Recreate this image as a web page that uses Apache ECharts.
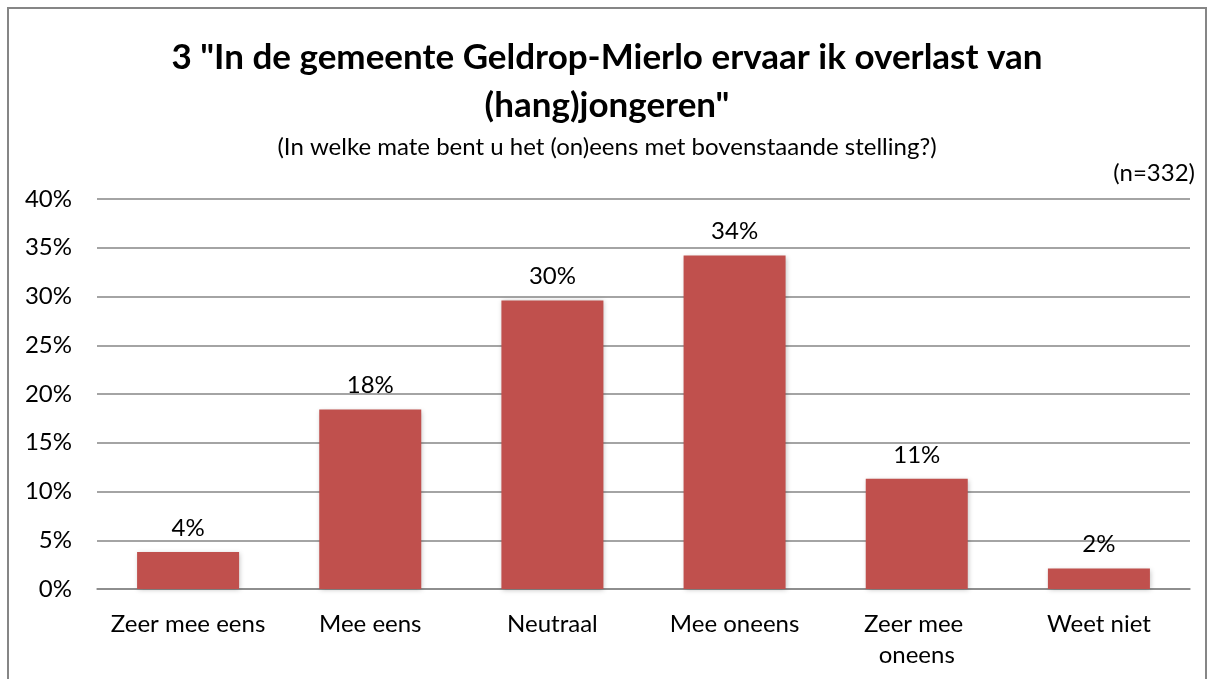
<!DOCTYPE html>
<html>
<head>
<meta charset="utf-8">
<script src="https://cdn.jsdelivr.net/npm/echarts@6/dist/echarts.min.js"></script>
<style>
  html, body { margin: 0; padding: 0; background: #fff; }
  #container { width: 1214px; height: 679px; }
</style>
</head>
<body>
<div id="container"></div>
<script>
var categories = ['Zeer mee eens', 'Mee eens', 'Neutraal', 'Mee oneens', 'Zeer mee oneens', 'Weet niet'];
var values = [3.8, 18.4, 29.6, 34.2, 11.3, 2.1];
var yTicks = [0, 5, 10, 15, 20, 25, 30, 35, 40];

var dom = document.getElementById('container');
var myChart = echarts.init(dom, null, { renderer: 'canvas' });

var font = 'Lato, "Open Sans", sans-serif';

var option = {
  animation: false,
  textStyle: { fontFamily: font },
  graphic: [{
    type: 'rect',
    shape: { x: 8, y: 8, width: 1198, height: 700 },
    style: { fill: 'none', stroke: '#868686', lineWidth: 2 },
    silent: true
  }],
  title: [
    {
      text: '3 "In de gemeente Geldrop-Mierlo ervaar ik overlast van\n(hang)jongeren"',
      left: 'center',
      top: 29,
      textStyle: { fontFamily: font, fontSize: 35, fontWeight: 'bold', color: '#000', lineHeight: 48 }
    },
    {
      text: '(In welke mate bent u het (on)eens met bovenstaande stelling?)',
      left: 'center',
      top: 127,
      textStyle: { fontFamily: font, fontSize: 24, fontWeight: 'normal', color: '#000', lineHeight: 30 }
    },
    {
      text: '(n=332)',
      right: 14,
      top: 153,
      textStyle: { fontFamily: font, fontSize: 24, fontWeight: 'normal', color: '#000', lineHeight: 30 }
    }
  ],
  grid: { left: 97, right: 24, top: 199, bottom: 90, containLabel: false },
  xAxis: {
    type: 'category',
    data: categories,
    axisLine: { show: true, lineStyle: { color: '#868686', width: 1.5 } },
    axisTick: { show: false },
    axisLabel: {
      color: '#000', fontSize: 24, fontFamily: font, margin: 20,
      lineHeight: 31, width: 172, overflow: 'break', interval: 0
    }
  },
  yAxis: {
    type: 'value',
    min: yTicks[0],
    max: yTicks[yTicks.length - 1],
    interval: 5,
    axisLine: { show: false },
    axisTick: { show: false },
    axisLabel: { color: '#000', fontSize: 24, fontFamily: font, margin: 25, formatter: '{value}%' },
    splitLine: { lineStyle: { color: '#868686', width: 1.5 } }
  },
  series: [{
    type: 'bar',
    data: values,
    barWidth: '56%',
    itemStyle: {
      color: '#C0504D',
      shadowColor: 'rgba(0,0,0,0.25)',
      shadowBlur: 5,
      shadowOffsetX: 1,
      shadowOffsetY: 1
    },
    label: {
      show: true,
      position: 'top',
      distance: 12,
      color: '#000',
      fontSize: 24,
      fontFamily: font,
      formatter: function (p) { return Math.round(p.value) + '%'; }
    }
  }]
};

myChart.setOption(option);
window.addEventListener('resize', myChart.resize);
</script>
</body>
</html>
